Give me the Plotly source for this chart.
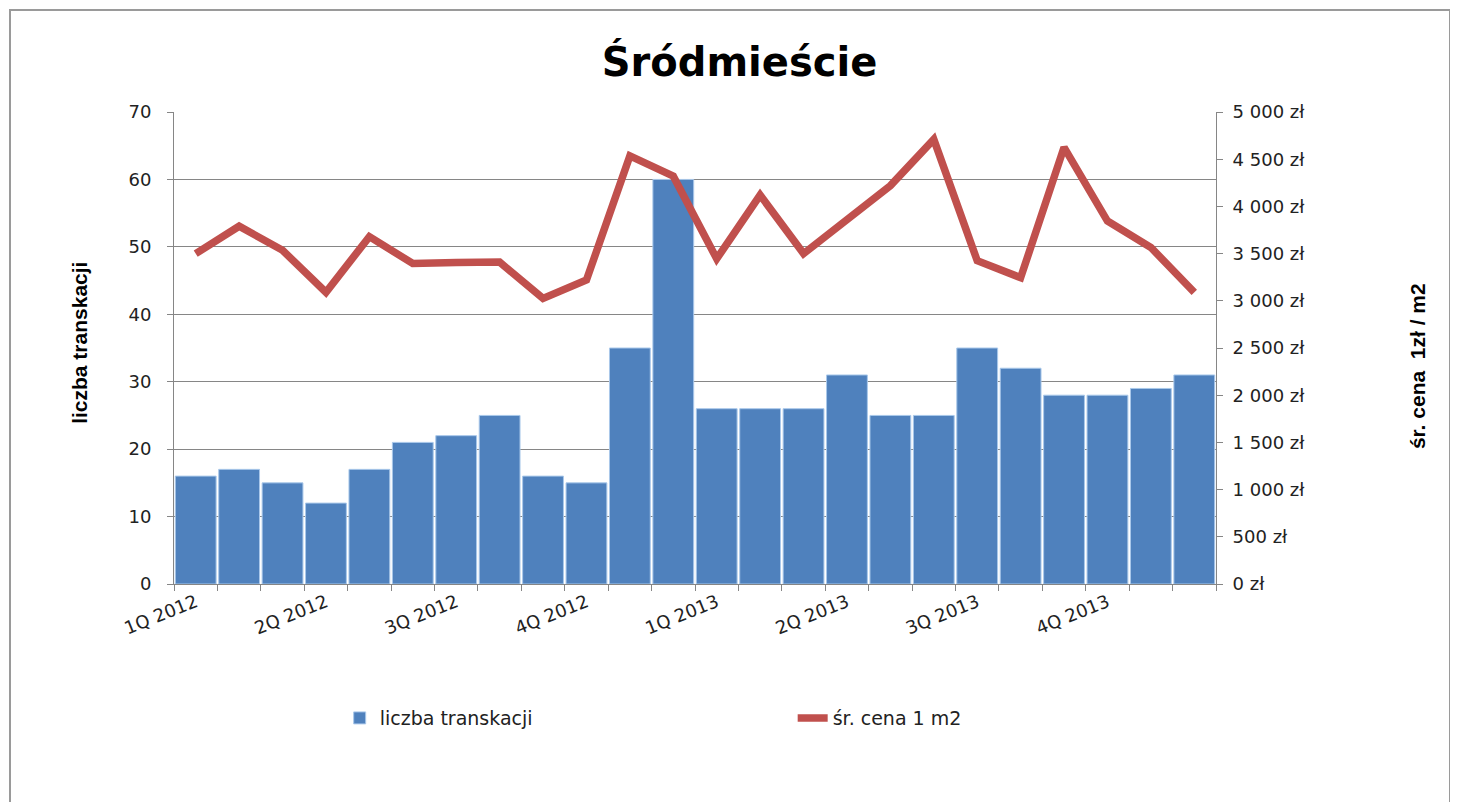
import plotly.graph_objects as go

# dane - Śródmieście, liczba transakcji i średnia cena 1 m2
okresy = list(range(24))
etykiety_pos = [0, 3, 6, 9, 12, 15, 18, 21]
etykiety = ['1Q 2012', '2Q 2012', '3Q 2012', '4Q 2012',
            '1Q 2013', '2Q 2013', '3Q 2013', '4Q 2013']

liczba_transakcji = [16, 17, 15, 12, 17, 21, 22, 25, 16, 15, 35, 60,
                     26, 26, 26, 31, 25, 25, 35, 32, 28, 28, 29, 31]

cena_m2 = [3500, 3790, 3535, 3090, 3680, 3395, 3405, 3410, 3025, 3220, 4535, 4320,
           3445, 4120, 3500, 3850, 4220, 4710, 3425, 3245, 4625, 3845, 3565, 3090]

lewa_ticki = [0, 10, 20, 30, 40, 50, 60, 70]
prawa_ticki = [0, 500, 1000, 1500, 2000, 2500, 3000, 3500, 4000, 4500, 5000]
prawa_tekst = ['0 zł', '500 zł', '1 000 zł', '1 500 zł', '2 000 zł', '2 500 zł',
               '3 000 zł', '3 500 zł', '4 000 zł', '4 500 zł', '5 000 zł']

NIEBIESKI = '#4F81BD'
CZERWONY = '#C0504D'
SZARY = '#868686'
tick_font = dict(family='DejaVu Sans', size=18, color='#222222')
tytul_osi = dict(family='Liberation Sans', size=21, color='black', weight='bold')

fig = go.Figure()
fig.add_trace(go.Bar(x=okresy, y=liczba_transakcji, name='liczba transkacji',
                     marker=dict(color=NIEBIESKI, line=dict(color='#a9c8ea', width=1))))
fig.add_trace(go.Scatter(x=okresy, y=cena_m2, name='śr. cena 1 m2', yaxis='y2',
                         mode='lines', line=dict(color=CZERWONY, width=7.5)))

# strona ma 8px marginesu w body, wiec wykres jest o 8px mniejszy
fig.update_layout(
    width=1450, height=794,
    margin=dict(l=166, r=242, t=104, b=218),
    paper_bgcolor='white', plot_bgcolor='white',
    bargap=0.06,
    title=dict(text='Śródmieście', x=0.5045, xanchor='center', y=0.932, yanchor='middle',
               font=dict(family='DejaVu Sans', size=40, color='black', weight='bold')),
    xaxis=dict(range=[-0.5, 23.5], tickmode='array', tickvals=etykiety_pos, ticktext=etykiety,
               tickangle=-22, tickfont=tick_font, ticks='', showgrid=False,
               showline=True, linecolor=SZARY, linewidth=1,
               minor=dict(tickmode='linear', tick0=-0.5, dtick=1, ticks='outside',
                          ticklen=6, tickcolor=SZARY, showgrid=False)),
    yaxis=dict(range=[0, 70], tickmode='array', tickvals=lewa_ticki, tickfont=tick_font,
               ticks='outside', ticklen=6, tickcolor=SZARY, ticklabelstandoff=12,
               showline=True, linecolor=SZARY, linewidth=1,
               showgrid=True, gridcolor=SZARY, gridwidth=1, zeroline=False),
    yaxis2=dict(range=[0, 5000], overlaying='y', side='right', tickmode='array',
                tickvals=prawa_ticki, ticktext=prawa_tekst, tickfont=tick_font,
                ticks='outside', ticklen=6, tickcolor=SZARY, ticklabelstandoff=6,
                showline=True, linecolor=SZARY, linewidth=1, showgrid=False, zeroline=False),
    legend=dict(orientation='h', x=0.159, xanchor='left', y=-0.284, yanchor='middle',
                font=dict(family='DejaVu Sans', size=19, color='#222222'),
                entrywidth=408, entrywidthmode='pixels', traceorder='normal'),
    showlegend=True,
)

# tytuly osi jako adnotacje (prawy jest troche nizej niz srodek osi)
fig.add_annotation(text='liczba transkacji', xref='paper', yref='paper', x=-0.0902, y=0.511,
                   xanchor='center', yanchor='middle',
                   textangle=-90, showarrow=False, font=tytul_osi)
fig.add_annotation(text='śr. cena  1zł / m2', xref='paper', yref='paper', x=1.194, y=0.462,
                   xanchor='center', yanchor='middle',
                   textangle=-90, showarrow=False, font=tytul_osi)

# ramka wykresu i niebieski łuk w rogu (jak w oryginale)
fig.add_shape(type='circle', xref='paper', yref='paper',
              x0=(1300 - 174) / 1042, x1=(1410 - 174) / 1042,
              y0=(584 - 8) / 472, y1=(584 + 60) / 472,
              fillcolor='#b7e1f7', line=dict(width=0), layer='below')
fig.add_shape(type='rect', xref='paper', yref='paper',
              x0=(10 - 174) / 1042, x1=(1450 - 174) / 1042,
              y0=(584 - 830) / 472, y1=(584 - 10) / 472,
              fillcolor='white', line=dict(color='#9a9a9a', width=2), layer='below')

fig.write_html("out.html")
